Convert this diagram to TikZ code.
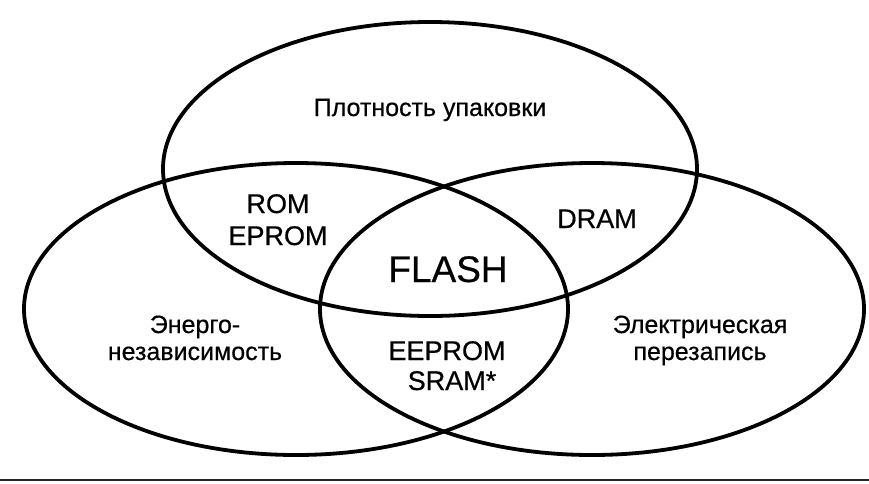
\documentclass[tikz,border=0pt]{standalone}
\usepackage{fontspec}
\setmainfont[FakeBold=0.5]{Liberation Sans}
\begin{document}
\begin{tikzpicture}[x=1pt,y=-1pt,
  venn/.style={line width=3.8pt, draw=black},
  lbl/.style={anchor=base, inner sep=0pt, font=\fontsize{25}{28}\selectfont},
  mem/.style={anchor=base, inner sep=0pt, font=\fontsize{27}{30}\selectfont},
  big/.style={anchor=base, inner sep=0pt, font=\fontsize{37}{40}\selectfont}]
\useasboundingbox[fill=white] (0,0) rectangle (869,483);
% ellipse centres
\coordinate (cT) at (430,169);
\coordinate (cL) at (296,309);
\coordinate (cR) at (592,309);
\draw[venn] (cT) ellipse [x radius=267pt, y radius=147pt];
\draw[venn] (cL) ellipse [x radius=272pt, y radius=146pt];
\draw[venn] (cR) ellipse [x radius=272pt, y radius=146pt];
% bottom rule
\coordinate (r1) at (0,480);
\coordinate (r2) at (869,480);
\draw[line width=2pt, black!85] (r1) -- (r2);
% labels
\node[lbl] (top) at (430,116) {Плотность упаковки};
\node[mem] (rom) at (278,213) {ROM};
\node[mem] (eprom) at (278,245) {EPROM};
\node[mem] (dram) at (597,228) {DRAM};
\node[big] (flash) at (448,282) {FLASH};
\node[lbl] (en1) at (195,333) {Энерго-};
\node[lbl] (en2) at (195,360) {независимость};
\node[lbl] (el1) at (700,333) {Электрическая};
\node[lbl] (el2) at (700,360) {перезапись};
\node[mem] (eeprom) at (447,360) {EEPROM};
\node[mem] (sram) at (452,390) {SRAM*};
\end{tikzpicture}
\end{document}
